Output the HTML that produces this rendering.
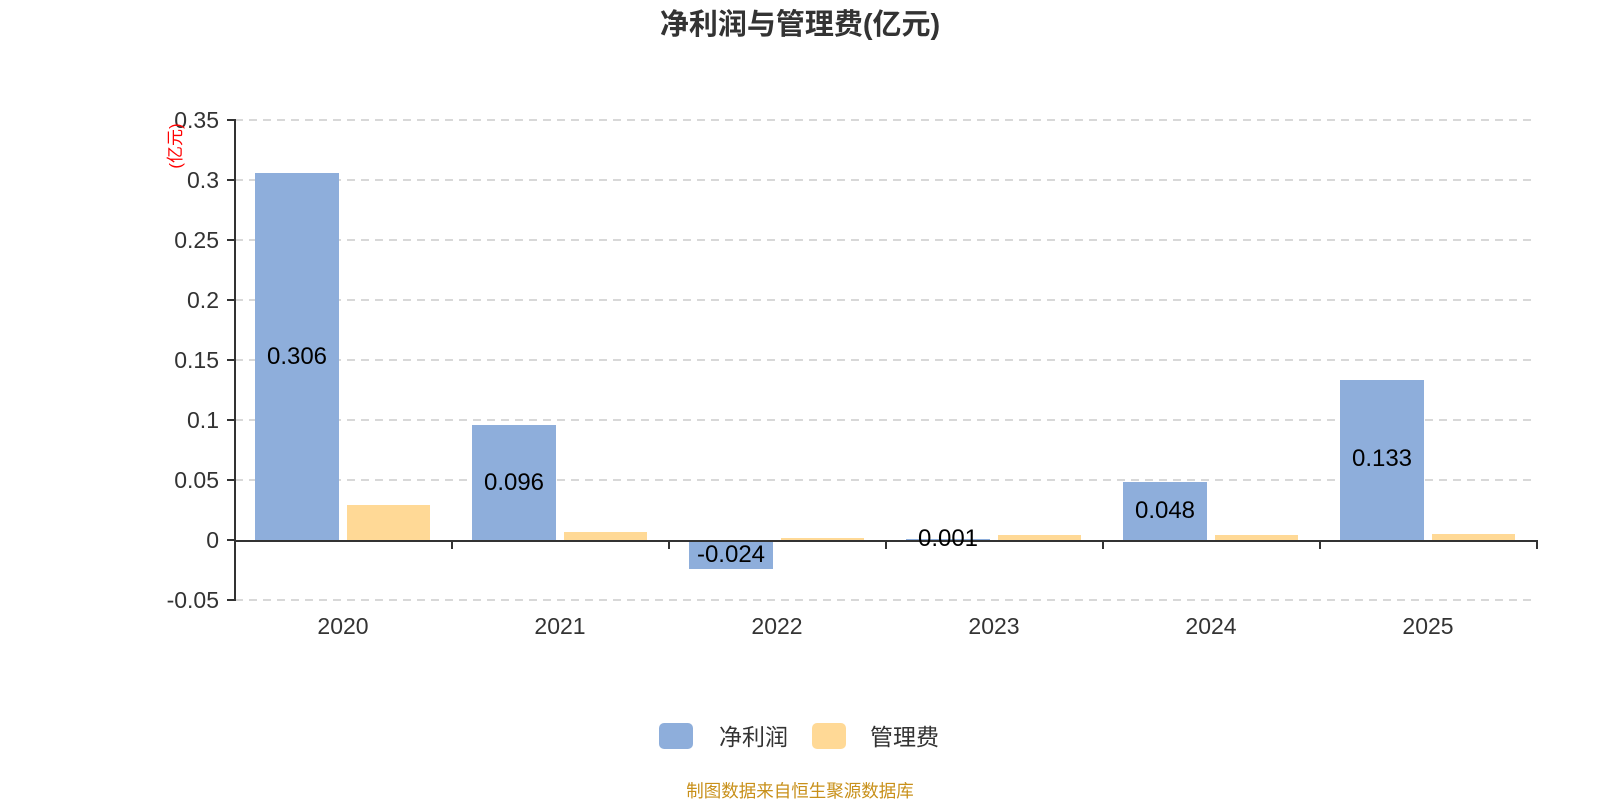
<!DOCTYPE html>
<html><head><meta charset="utf-8"><style>
body{margin:0;background:#fff}
text{font-family:"Liberation Sans","Noto Sans CJK SC",sans-serif}
</style></head><body>
<svg width="1600" height="800" xmlns="http://www.w3.org/2000/svg">
<text x="800" y="34" text-anchor="middle" font-size="29" font-weight="bold" fill="#333">净利润与管理费(亿元)</text>
<g stroke="#ccc" stroke-width="1.5" stroke-dasharray="8,6">
<line x1="235" y1="120" x2="1537" y2="120"/>
<line x1="235" y1="180" x2="1537" y2="180"/>
<line x1="235" y1="240" x2="1537" y2="240"/>
<line x1="235" y1="300" x2="1537" y2="300"/>
<line x1="235" y1="360" x2="1537" y2="360"/>
<line x1="235" y1="420" x2="1537" y2="420"/>
<line x1="235" y1="480" x2="1537" y2="480"/>
<line x1="235" y1="600" x2="1537" y2="600"/>
</g>
<g font-size="23" fill="#333" text-anchor="end">
<text x="219" y="128">0.35</text>
<text x="219" y="188">0.3</text>
<text x="219" y="248">0.25</text>
<text x="219" y="308">0.2</text>
<text x="219" y="368">0.15</text>
<text x="219" y="428">0.1</text>
<text x="219" y="488">0.05</text>
<text x="219" y="548">0</text>
<text x="219" y="608">-0.05</text>
</g>
<text transform="translate(181,146) rotate(-90)" text-anchor="middle" font-size="17" fill="#f00">(亿元)</text>
<g fill="#8eaedb">
<rect x="255" y="173" width="84" height="367"/>
<rect x="472" y="425" width="84" height="115"/>
<rect x="689" y="540" width="84" height="29"/>
<rect x="906" y="539" width="84" height="1"/>
<rect x="1123" y="482" width="84" height="58"/>
<rect x="1340" y="380" width="84" height="160"/>
</g>
<g fill="#ffd996">
<rect x="347" y="505" width="83" height="35"/>
<rect x="564" y="532" width="83" height="8"/>
<rect x="781" y="538" width="83" height="2"/>
<rect x="998" y="535" width="83" height="5"/>
<rect x="1215" y="535" width="83" height="5"/>
<rect x="1432" y="534" width="83" height="6"/>
</g>
<g stroke="#333" stroke-width="2">
<line x1="235" y1="119" x2="235" y2="601"/>
<line x1="227" y1="120" x2="235" y2="120"/>
<line x1="227" y1="180" x2="235" y2="180"/>
<line x1="227" y1="240" x2="235" y2="240"/>
<line x1="227" y1="300" x2="235" y2="300"/>
<line x1="227" y1="360" x2="235" y2="360"/>
<line x1="227" y1="420" x2="235" y2="420"/>
<line x1="227" y1="480" x2="235" y2="480"/>
<line x1="227" y1="540" x2="235" y2="540"/>
<line x1="227" y1="600" x2="235" y2="600"/>
<line x1="235" y1="541" x2="1538" y2="541"/>
<line x1="452" y1="541" x2="452" y2="549"/>
<line x1="669" y1="541" x2="669" y2="549"/>
<line x1="886" y1="541" x2="886" y2="549"/>
<line x1="1103" y1="541" x2="1103" y2="549"/>
<line x1="1320" y1="541" x2="1320" y2="549"/>
<line x1="1537" y1="541" x2="1537" y2="549"/>
</g>
<g font-size="24" fill="#000" text-anchor="middle">
<text x="297" y="364">0.306</text>
<text x="514" y="490">0.096</text>
<text x="731" y="562">-0.024</text>
<text x="948" y="546">0.001</text>
<text x="1165" y="518">0.048</text>
<text x="1382" y="466">0.133</text>
</g>
<g font-size="23" fill="#333" text-anchor="middle">
<text x="343" y="634">2020</text>
<text x="560" y="634">2021</text>
<text x="777" y="634">2022</text>
<text x="994" y="634">2023</text>
<text x="1211" y="634">2024</text>
<text x="1428" y="634">2025</text>
</g>
<rect x="659" y="723" width="34" height="26" rx="5" fill="#8eaedb"/>
<text x="719" y="745" font-size="23" fill="#333">净利润</text>
<rect x="812" y="723" width="34" height="26" rx="5" fill="#ffd996"/>
<text x="870" y="745" font-size="23" fill="#333">管理费</text>
<text x="800" y="797" text-anchor="middle" font-size="17.5" fill="#c8901a">制图数据来自恒生聚源数据库</text>
</svg>
</body></html>
